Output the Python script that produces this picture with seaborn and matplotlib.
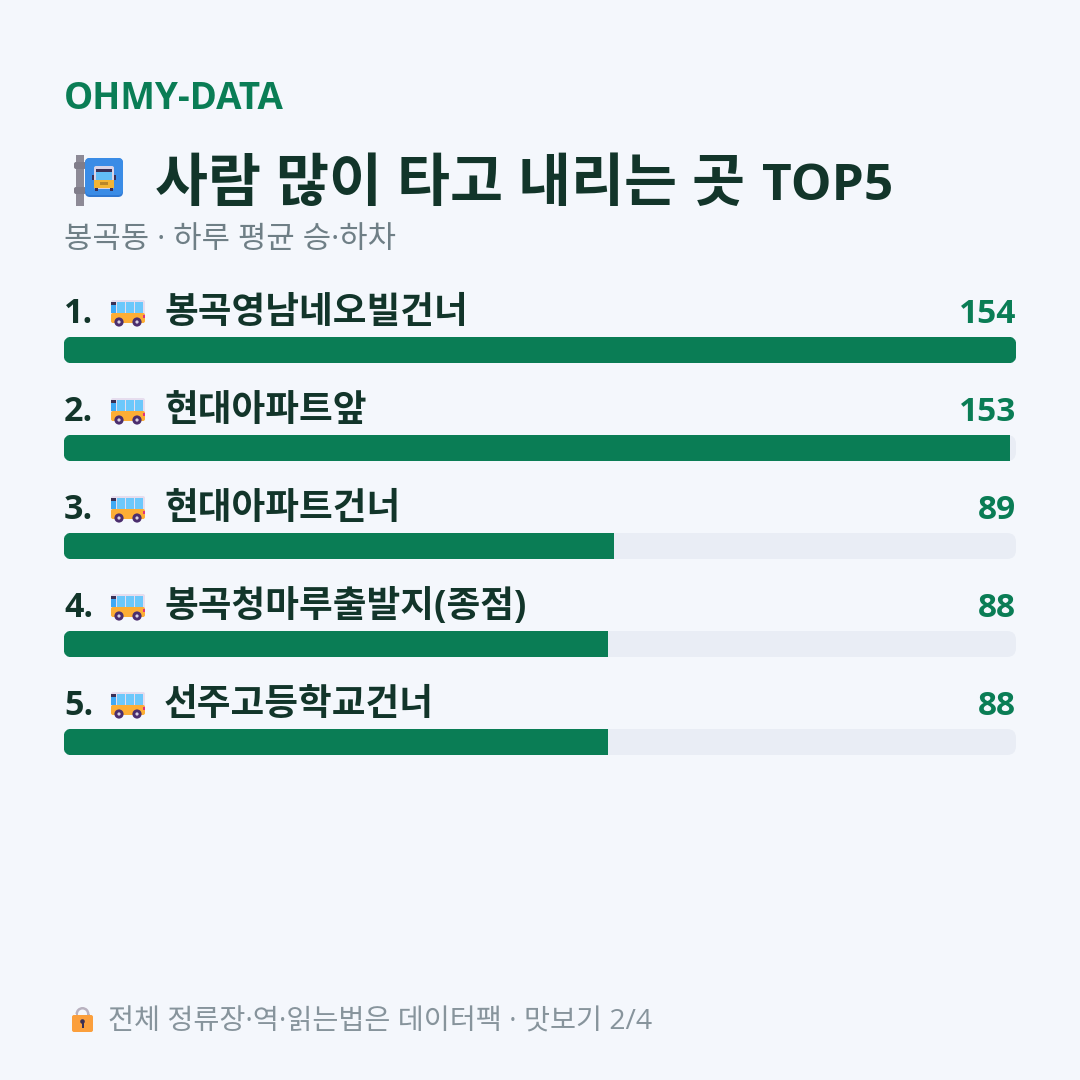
import matplotlib
matplotlib.use("Agg")
import matplotlib.pyplot as plt
import pandas as pd
import seaborn as sns
from matplotlib.patches import Circle, FancyBboxPatch, Rectangle, Wedge
from matplotlib.transforms import IdentityTransform

# Stops and their average daily boardings + alightings
stops = ["봉곡영남네오빌건너", "현대아파트앞", "현대아파트건너", "봉곡청마루출발지(종점)", "선주고등학교건너"]
riders = [154, 153, 89, 88, 88]
brand = "OHMY-DATA"
headline = "사람 많이 타고 내리는 곳"
headline_tag = "TOP5"
subhead = "봉곡동 · 하루 평균 승·하차"
footnote = "전체 정류장·역·읽는법은 데이터팩 · 맛보기 2/4"

BG = "#F4F7FC"
GREEN = "#0A7D55"
TRACK = "#E9EDF5"
INK = "#12352A"
MUTED = "#6F7F86"
FOOT = "#87949C"

sns.set_theme(style="white")
plt.rcParams["font.family"] = ["Open Sans", "Noto Sans CJK KR", "DejaVu Sans"]

fig = plt.figure(figsize=(10.8, 10.8), dpi=100, facecolor=BG)

# Full-canvas layer measured in pixels, for text and small icons
page = fig.add_axes([0, 0, 1, 1], zorder=2)
page.set_xlim(0, 1080)
page.set_ylim(1080, 0)
page.axis("off")
page.patch.set_alpha(0)

# Bar layer: 98 px per row, 26 px bars, centred at y = 350, 448, ...
ROW, BAR = 98, 26
left, right = 64, 1016
top, bottom = 350 - ROW / 2, 742 + ROW / 2
chart = fig.add_axes([left / 1080, 1 - bottom / 1080, (right - left) / 1080, (bottom - top) / 1080], zorder=1)
chart.patch.set_alpha(0)

table = pd.DataFrame({"stop": stops, "riders": riders})
table["full"] = max(riders)
sns.barplot(data=table, x="full", y="stop", color=TRACK, width=BAR / ROW, saturation=1, ax=chart)
n_tracks = len(chart.patches)
sns.barplot(data=table, x="riders", y="stop", color=GREEN, width=BAR / ROW, saturation=1, ax=chart)
chart.set_xlim(0, max(riders))
chart.set_ylim(len(stops) - 0.5, -0.5)
chart.axis("off")
fig.canvas.draw()

# Swap square tracks for rounded ones and clip the fills to a hair-wider outline
tracks = chart.patches[:n_tracks]
fills = chart.patches[n_tracks:]
for track, fill in zip(tracks, fills):
    box = track.get_window_extent()
    rounded = FancyBboxPatch(
        (box.x0, box.y0), box.width, box.height,
        boxstyle="round,pad=0,rounding_size=9",
        transform=IdentityTransform(), facecolor=TRACK, edgecolor="none",
        clip_on=False, zorder=1,
    )
    chart.add_artist(rounded)
    mask = FancyBboxPatch(
        (box.x0 - 0.6, box.y0 - 0.6), box.width + 1.2, box.height + 1.2,
        boxstyle="round,pad=0,rounding_size=9.5",
        transform=IdentityTransform(), facecolor="none", edgecolor="none",
    )
    track.set_visible(False)
    fill.set_zorder(2)
    fill.set_edgecolor("none")
    fill.set_clip_path(mask)


def bus(x, y):
    """Side-on bus with its top-left corner at x, y; 34 x 27 px."""
    page.add_patch(FancyBboxPatch((x + 1, y + 1), 34, 22, boxstyle="round,pad=0,rounding_size=2",
                                  fc="#E6DDEE", ec="none"))
    page.add_patch(FancyBboxPatch((x + 1, y + 14), 34, 10, boxstyle="round,pad=0,rounding_size=2",
                                  fc="#FDAE35", ec="none"))
    page.add_patch(Rectangle((x + 1, y + 3), 5, 11, fc="#3FA9F5", ec="none"))
    page.add_patch(Rectangle((x + 1, y + 3), 5, 2.5, fc="#3A2F55", ec="none"))
    for wx in (x + 7, x + 16, x + 25):
        page.add_patch(Rectangle((wx, y + 3), 7.5, 11, fc="#6CC8FB", ec="none"))
    for wx in (x + 9, x + 27):
        page.add_patch(Circle((wx, y + 23), 4.6, fc="#4B2E6E", ec="none"))
        page.add_patch(Circle((wx, y + 23), 1.6, fc="#D9D2E3", ec="none"))
    page.add_patch(Rectangle((x + 33, y + 16), 2, 3, fc="#E0337A", ec="none"))


def bus_stop(x, y):
    """Pole with a blue sign carrying a front-facing bus."""
    page.add_patch(Rectangle((x + 2, y), 8, 51, fc="#8D8A96", ec="none"))
    for py in (y + 7, y + 32):
        page.add_patch(FancyBboxPatch((x, py), 12, 7, boxstyle="round,pad=0,rounding_size=2",
                                      fc="#807D8A", ec="none"))
    page.add_patch(FancyBboxPatch((x + 11, y + 3), 38, 39, boxstyle="round,pad=0,rounding_size=5",
                                  fc="#2F78D2", ec="none"))
    page.add_patch(FancyBboxPatch((x + 11, y + 3), 38, 37, boxstyle="round,pad=0,rounding_size=5",
                                  fc="#3A8CE6", ec="none"))
    page.add_patch(Rectangle((x + 18, y + 20), 2, 5, fc="#3A2F55", ec="none"))
    page.add_patch(Rectangle((x + 40, y + 20), 2, 5, fc="#3A2F55", ec="none"))
    page.add_patch(FancyBboxPatch((x + 20, y + 11), 20, 23, boxstyle="round,pad=0,rounding_size=2",
                                  fc="#D9D3E6", ec="none"))
    page.add_patch(Rectangle((x + 22, y + 14), 16, 2.5, fc="#3A2F55", ec="none"))
    page.add_patch(Rectangle((x + 22, y + 16.5), 16, 8.5, fc="#62BDF6", ec="none"))
    page.add_patch(Rectangle((x + 20, y + 25), 20, 8, fc="#F2B535", ec="none"))
    page.add_patch(Rectangle((x + 26, y + 27), 8, 3, fc="#B8862A", ec="none"))
    page.add_patch(Rectangle((x + 21, y + 33), 3, 2.5, fc="#3A2F55", ec="none"))
    page.add_patch(Rectangle((x + 36, y + 33), 3, 2.5, fc="#3A2F55", ec="none"))


def padlock(x, y):
    """Small padlock; x, y is the top-left of the body."""
    page.add_patch(Wedge((x + 10.5, y - 1), 7, 180, 360, width=2.5, fc="#B9B2C0", ec="none"))
    page.add_patch(Rectangle((x + 3.5, y - 1), 2.5, 2, fc="#B9B2C0", ec="none"))
    page.add_patch(Rectangle((x + 15, y - 1), 2.5, 2, fc="#B9B2C0", ec="none"))
    page.add_patch(FancyBboxPatch((x, y), 21, 17, boxstyle="round,pad=0,rounding_size=2",
                                  fc="#FB9F3C", ec="none"))
    page.add_patch(Circle((x + 10.5, y + 6.5), 2.3, fc="#3A2F55", ec="none"))
    page.add_patch(Rectangle((x + 9.5, y + 6.5), 2, 6.5, fc="#3A2F55", ec="none"))


page.text(64, 109, brand, fontsize=26.5, fontweight="bold", color=GREEN, va="baseline")
bus_stop(74, 155)
page.text(155, 201, headline, fontsize=41.5, fontweight="bold", color=INK, va="baseline")
page.text(893, 200, headline_tag, fontsize=37, fontweight="bold", color=INK, va="baseline", ha="right")
page.text(64, 248, subhead, fontsize=22.2, color=MUTED, va="baseline")

# One header line per stop, sitting above its bar
for i, (name, value) in enumerate(zip(stops, riders)):
    base = 323 + i * ROW
    page.text(64, base, f"{i + 1}.", fontsize=24.5, fontweight="bold", color=INK, va="baseline")
    bus(110, base - 24)
    page.text(164, base, name, fontsize=26.4, fontweight="bold", color=INK, va="baseline")
    page.text(1016, base, str(value), fontsize=24, fontweight="bold", color=GREEN, va="baseline", ha="right")

padlock(72, 1015)
page.text(108, 1030, footnote, fontsize=20.4, color=FOOT, va="baseline")

fig.savefig("out.png", dpi=100, facecolor=BG)
